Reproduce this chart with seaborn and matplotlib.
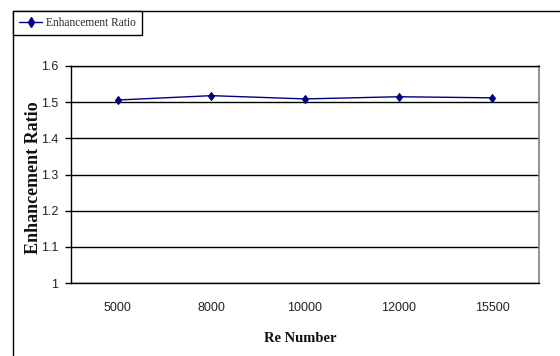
import numpy as np
import pandas as pd
import matplotlib
matplotlib.use("Agg")
import matplotlib.pyplot as plt
from matplotlib.lines import Line2D
import seaborn as sns

# Data
re_numbers = ["5000", "8000", "10000", "12000", "15500"]
enhancement_ratio = [1.506, 1.518, 1.509, 1.515, 1.512]
y_ticks = [1.0, 1.1, 1.2, 1.3, 1.4, 1.5, 1.6]
y_tick_labels = ["1", "1.1", "1.2", "1.3", "1.4", "1.5", "1.6"]
series_name = "Enhancement Ratio"

df = pd.DataFrame({"Re": re_numbers, "ratio": enhancement_ratio})

sns.set_theme(style="white")
plt.rcParams["font.family"] = ["Liberation Sans", "DejaVu Sans"]

fig = plt.figure(figsize=(5.6, 3.56), dpi=100)
ax = fig.add_axes([71 / 560, 1 - 283 / 356, (539 - 71) / 560, (283 - 66) / 356])

navy = "#000080"
sns.pointplot(data=df, x="Re", y="ratio", order=re_numbers, ax=ax,
              color=navy, markers="d", linestyles="-", errorbar=None,
              markersize=4.5, linewidth=1.0)

ax.set_ylim(1.0, 1.6)
ax.set_xlim(-0.5, len(re_numbers) - 0.5)
ax.set_yticks(y_ticks)
ax.set_yticklabels(y_tick_labels)

# horizontal gridlines
ax.yaxis.grid(True, color="black", linewidth=1.0)
ax.xaxis.grid(False)
ax.set_axisbelow(True)

# category boundary ticks on the x axis
ax.set_xticks(np.arange(-0.5, len(re_numbers), 1.0), minor=True)
ax.tick_params(axis="x", which="major", length=0, pad=14, labelsize=9)
ax.tick_params(axis="x", which="minor", length=4, width=1, color="black", direction="out")
ax.tick_params(axis="y", which="major", length=4, width=1, color="black", direction="out",
               pad=5, labelsize=9)
ax.tick_params(axis="both", bottom=True, left=True)
for lab in ax.get_xticklabels() + ax.get_yticklabels():
    lab.set_color("#222222")

for side in ["left", "bottom", "top"]:
    ax.spines[side].set_color("black")
    ax.spines[side].set_linewidth(1.0)
ax.spines["right"].set_color("#808080")
ax.spines["right"].set_linewidth(1.2)

ax.set_xlabel("")
ax.set_ylabel("")
fig.text(300 / 560, 1 - 338 / 356, "Re Number", ha="center", va="center",
         family="Liberation Serif", fontweight="bold", fontsize=10.5, color="#111111")
fig.text(34 / 560, 1 - 178 / 356, "Enhancement Ratio", ha="center", va="center",
         rotation=90, family="Liberation Serif", fontweight="bold", fontsize=13,
         color="#111111")

# chart area border (top and left edges)
fig.add_artist(Line2D([13 / 560, 1.0], [1 - 10.7 / 356, 1 - 10.7 / 356],
                      transform=fig.transFigure, color="black", linewidth=1.0))
fig.add_artist(Line2D([13 / 560, 13 / 560], [0.0, 1 - 10.7 / 356],
                      transform=fig.transFigure, color="black", linewidth=1.0))

# legend
handle = Line2D([], [], color=navy, marker="d", markersize=5, linewidth=1.0)
leg = fig.legend([handle], [series_name], loc="upper left",
                 bbox_to_anchor=(13 / 560, 1 - 10.7 / 356),
                 bbox_transform=fig.transFigure, borderaxespad=0,
                 frameon=True, fancybox=False, shadow=False,
                 prop={"family": "Liberation Serif", "size": 8.3},
                 handlelength=2.0, handletextpad=0.3, borderpad=0.55)
leg.get_frame().set_edgecolor("black")
leg.get_frame().set_linewidth(1.0)
leg.get_frame().set_facecolor("white")
leg.get_frame().set_alpha(1.0)

fig.savefig("out.png", dpi=100)
